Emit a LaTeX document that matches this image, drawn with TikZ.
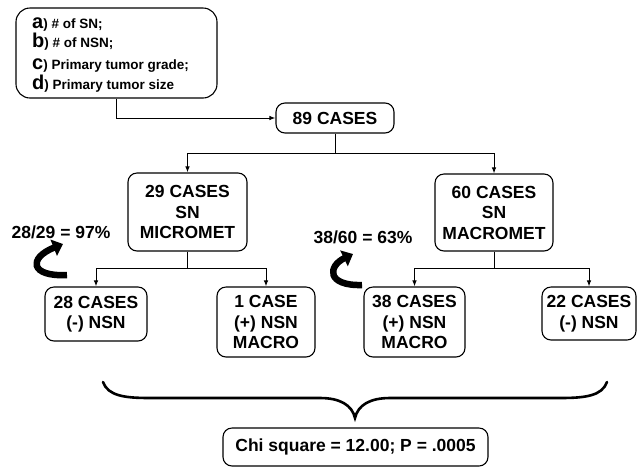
\documentclass[tikz,border=0pt]{standalone}
\usepackage{fontspec}
\setmainfont{Liberation Sans}
\usetikzlibrary{arrows.meta}
\begin{document}
\begin{tikzpicture}[x=1pt,y=-1pt,
 box/.style={draw, rounded corners=9pt, line width=1.1pt, inner sep=0pt, align=center, font=\bfseries\fontsize{17.5}{20.5}\selectfont},
 conn/.style={line width=1pt, -{Latex[length=6pt,width=4.5pt]}},
 plain/.style={line width=1pt},
 lbl/.style={font=\bfseries\fontsize{17.5}{20.5}\selectfont, inner sep=0pt},
 item/.style={anchor=base west, inner sep=0pt, font=\bfseries\fontsize{13.5}{16}\selectfont},
 curl/.style={line width=6.5pt, -{Triangle[length=10pt,width=17pt]}},
 brace/.style={line width=2.6pt, line cap=round},
]
\useasboundingbox (0,0) rectangle (639,467);

% source box
\node[box, rounded corners=14pt, minimum width=201pt, minimum height=90pt] (src) at (116.5,53) {};
\node[item] (la) at (32,28) {{\fontsize{20}{20}\selectfont a}) \# of SN;};
\node[item] (lb) at (32,47.5) {{\fontsize{20}{20}\selectfont b}) \# of NSN;};
\node[item] (lc) at (32,69.5) {{\fontsize{20}{20}\selectfont c}) Primary tumor grade;};
\node[item] (ld) at (32,89) {{\fontsize{20}{20}\selectfont d}) Primary tumor size};

% case boxes
\node[box, minimum width=118pt, minimum height=30pt] (n89) at (335,118) {89 CASES};
\node[box, minimum width=119pt, minimum height=78pt] (n29) at (187.5,212) {29 CASES\\SN\\MICROMET};
\node[box, minimum width=118pt, minimum height=77pt] (n60) at (494,212.5) {60 CASES\\SN\\MACROMET};
\node[box, minimum width=102pt, minimum height=54pt] (n28) at (96,314) {28 CASES\\(-) NSN};
\node[box, minimum width=98pt, minimum height=70pt] (n1) at (266,322) {1 CASE\\(+) NSN\\MACRO};
\node[box, minimum width=101pt, minimum height=70pt] (n38) at (414.5,322) {38 CASES\\(+) NSN\\MACRO};
\node[box, minimum width=94pt, minimum height=53pt] (n22) at (589,313.5) {22 CASES\\(-) NSN};
\node[box, minimum width=265pt, minimum height=38pt] (chi) at (355.5,447) {Chi square = 12.00; P = .0005};

% labels
\node[lbl] (p1) at (61,232) {28/29 = 97\%};
\node[lbl] (p2) at (363,237) {38/60 = 63\%};

% connectors
\draw[conn] (src.south) |- (n89.west);
\coordinate (j1) at (335,153);
\draw[plain] (n89.south) -- (j1);
\draw[conn] (j1) -| (n29.north);
\draw[conn] (j1) -| (n60.north);
\coordinate (j2) at (187.5,268);
\draw[plain] (n29.south) -- (j2);
\draw[conn] (j2) -| (n28.north);
\draw[conn] (j2) -| (n1.north);
\coordinate (j3) at (494,268);
\draw[plain] (n60.south) -- (j3);
\draw[conn] (j3) -| (n38.north);
\draw[conn] (j3) -| (n22.north);

% curled arrows
\draw[curl] (67,275) .. controls (30,277) and (28,258) .. (63,244);
\draw[curl] (362,285) .. controls (326,286) and (328,266) .. (353,254);

% brace
\draw[brace] (103,382) .. controls (108,396) and (125,398) .. (150,398) -- (320,398)
  .. controls (340,398) and (352,405) .. (355,418)
  .. controls (358,405) and (370,398) .. (390,398) -- (560,398)
  .. controls (585,398) and (602,396) .. (607,382);
\end{tikzpicture}
\end{document}
